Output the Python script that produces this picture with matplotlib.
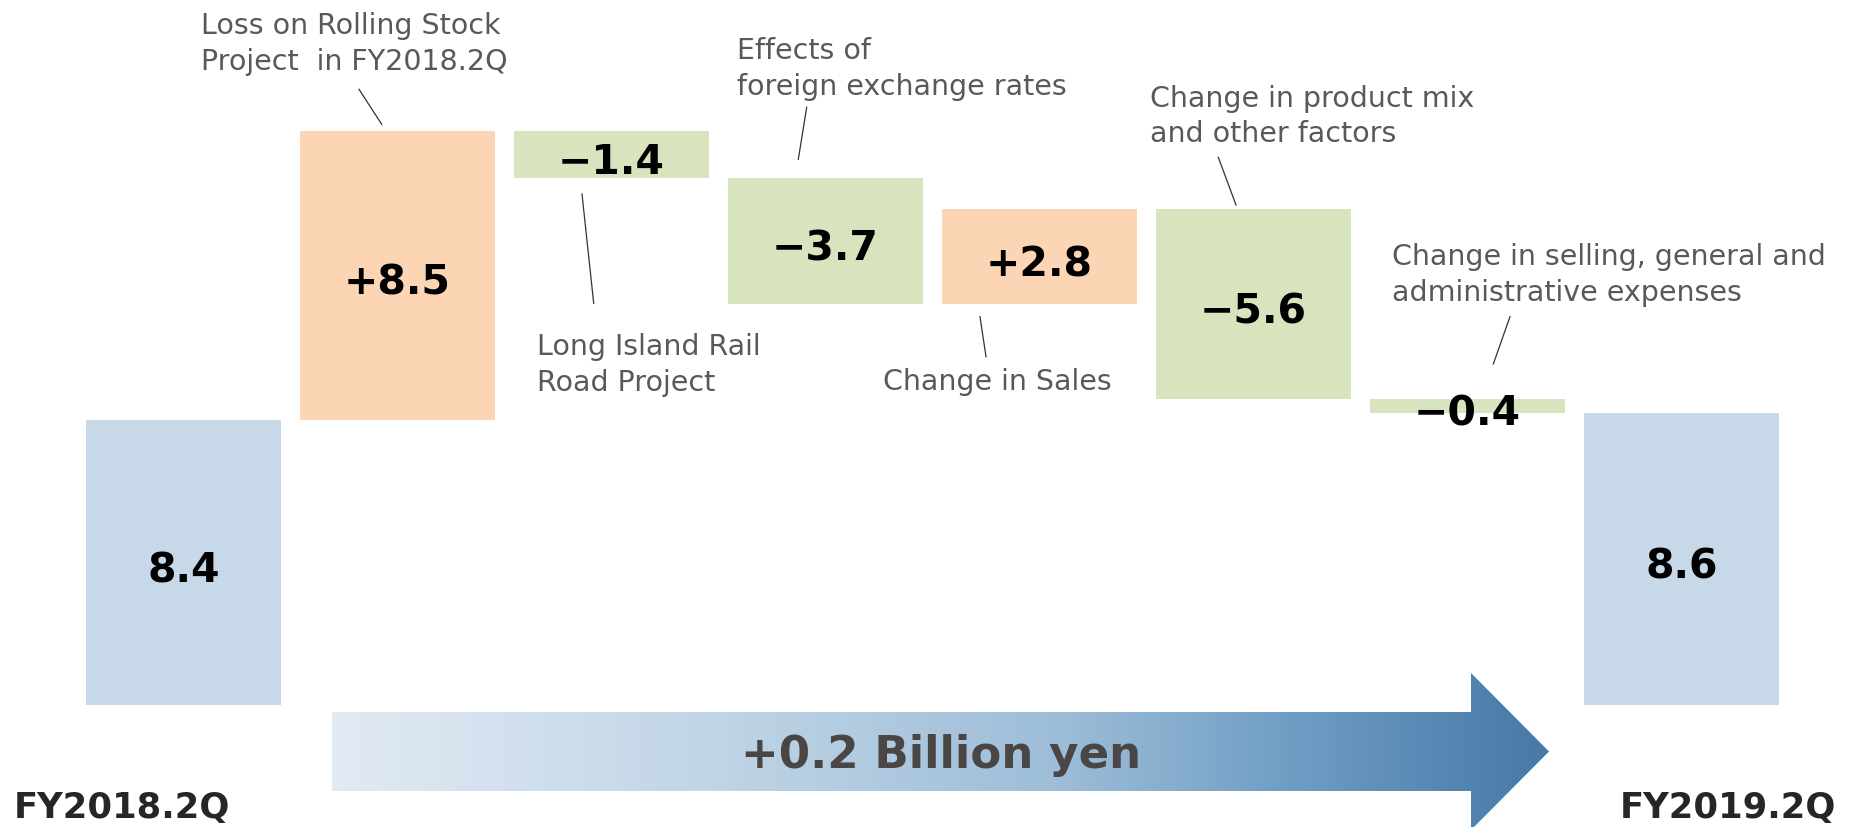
import numpy as np
import matplotlib.pyplot as plt
from matplotlib.colors import LinearSegmentedColormap
from matplotlib.patches import Polygon

# data
periods = ["FY2018.2Q", "FY2019.2Q"]
start_value = 8.4
end_value = 8.6
factors = [
    "Loss on Rolling Stock\nProject  in FY2018.2Q",
    "Long Island Rail\nRoad Project",
    "Effects of\nforeign exchange rates",
    "Change in Sales",
    "Change in product mix\nand other factors",
    "Change in selling, general and\nadministrative expenses",
]
changes = [8.5, -1.4, -3.7, 2.8, -5.6, -0.4]
total_label = "+0.2 Billion yen"

blue = "#c7d9e8"
orange = "#fbd5b4"
green = "#d8e4be"

W, H = 1875, 827
fig = plt.figure(figsize=(W / 100, H / 100), dpi=100)

# bars, in data units
ax = fig.add_axes([0, 0, 1, 1])
ax.set_xlim(-0.8575, 7.904)
ax.set_ylim(-3.574, 20.75)
ax.axis("off")

levels = start_value + np.cumsum(changes)
before = np.concatenate([[start_value], levels[:-1]])
delta_bottoms = np.where(np.array(changes) > 0, before, levels)

heights = [start_value] + [abs(c) for c in changes] + [end_value]
bottoms = [0] + list(delta_bottoms) + [0]
colors = [blue] + [orange if c > 0 else green for c in changes] + [blue]
labels = [f"{start_value:.1f}"] + \
    [("+" if c > 0 else "\u2212") + f"{abs(c):.1f}" for c in changes] + \
    [f"{end_value:.1f}"]

x = np.arange(len(heights))
ax.bar(x, heights, width=0.911, bottom=bottoms, color=colors, linewidth=0)

for xi, b, h, lab in zip(x, bottoms, heights, labels):
    ax.annotate(lab, (xi, b + h / 2), xytext=(0, -14), textcoords="offset points",
                ha="center", va="baseline", fontsize=29.5, fontweight="bold", color="black")

# overlay in pixel coords for notes and arrow
ov = fig.add_axes([0, 0, 1, 1])
ov.patch.set_alpha(0)

# text left, first baseline, leader line
notes = [
    (200.7, 34.3, (359, 89.3, 381.7, 124.3)),
    (537.3, 355, (582, 194, 593.7, 303.3)),
    (736.7, 59.3, (806.7, 107.3, 798.3, 159.3)),
    (882.7, 390, (980, 316.7, 986, 356.7)),
    (1150, 106.7, (1218.3, 157.3, 1236, 205)),
    (1391.8, 265, (1510, 316.7, 1493.3, 364)),
]
for text, (tx, ty, (x0, y0, x1, y1)) in zip(factors, notes):
    for i, line in enumerate(text.split("\n")):
        ov.text(tx, ty + i * 35.7, line, ha="left", va="baseline",
                fontsize=20.5, color="#595959")
    ov.plot([x0, x1], [y0, y1], color="#333333", lw=0.9)

# gradient arrow
pts = [(332, 712), (1471, 712), (1471, 673), (1549, 751.5),
       (1471, 830), (1471, 791), (332, 791)]
cmap = LinearSegmentedColormap.from_list(
    "arrow", [(0, "#e2eaf4"), (0.34, "#bdd3e5"), (0.6, "#9dbdd8"),
              (0.8, "#6c9bc3"), (1, "#4679a8")])
grad = np.linspace(0, 1, 512).reshape(1, -1)
img = ov.imshow(grad, cmap=cmap, extent=[332, 1549, 830, 673], aspect="auto")
poly = Polygon(pts, closed=True, facecolor="none", edgecolor="none")
ov.add_patch(poly)
img.set_clip_path(poly)

ov.text(941.5, 768, total_label, ha="center", va="baseline", fontsize=32.5,
        fontweight="bold", color="#4a4646")

ov.text(14, 818, periods[0], ha="left", va="baseline", fontsize=25.5,
        fontweight="bold", color="#262626")
ov.text(1836, 818, periods[1], ha="right", va="baseline", fontsize=25.5,
        fontweight="bold", color="#262626")

ov.set_xlim(0, W)
ov.set_ylim(H, 0)
ov.axis("off")

fig.savefig("out.png", dpi=100)
